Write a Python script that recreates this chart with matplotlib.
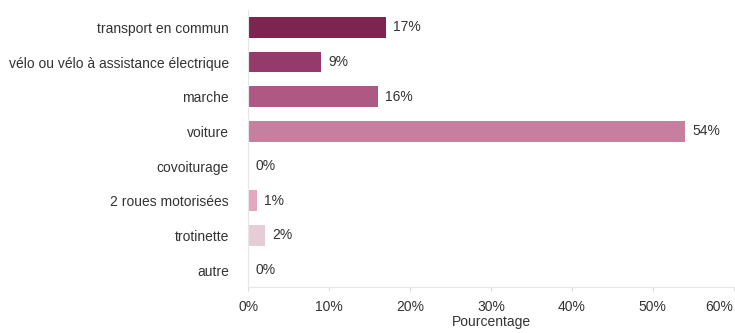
import matplotlib
matplotlib.use("Agg")
import matplotlib.pyplot as plt

categories = ["transport en commun", "vélo ou vélo à assistance électrique", "marche",
              "voiture", "covoiturage", "2 roues motorisées", "trotinette", "autre"]
values = [17, 9, 16, 54, 0, 1, 2, 0]
colors = ["#7d2450", "#953b6b", "#ad5983", "#c67f9f", "#c67f9f", "#e3a8bd", "#e6ccd6", "#e6ccd6"]
xticks = [0, 10, 20, 30, 40, 50, 60]

plt.rcParams['font.family'] = ['Liberation Sans', 'DejaVu Sans']
FS = 10

fig = plt.figure(figsize=(7.35, 3.33), dpi=100)
ax = fig.add_axes([0.338, 0.137, 0.660, 0.833])

y = list(range(len(categories)))
ax.barh(y, values, height=0.6, color=colors, edgecolor="none")
for yi, v in zip(y, values):
    ax.text(v + 0.9, yi, f"{v}%", va="center", ha="left", fontsize=FS, color="#333333")

ax.set_ylim(len(categories) - 0.5, -0.5)
ax.set_xlim(0, 60)
ax.set_yticks(y)
ax.set_yticklabels(categories, fontsize=FS, color="#333333")
ax.set_xticks(xticks)
xtl = ax.set_xticklabels([f"{t}%" for t in xticks], fontsize=FS, color="#333333")
xtl[-1].set_horizontalalignment("right")
ax.set_xlabel("Pourcentage", fontsize=FS, color="#333333", labelpad=1)

ax.tick_params(axis="y", length=0, pad=14)
ax.tick_params(axis="x", length=3, color="#dddddd", pad=6)
for s in ["top", "right"]:
    ax.spines[s].set_visible(False)
ax.spines["left"].set_color("#e6e6e6")
ax.spines["bottom"].set_color("#e6e6e6")

fig.savefig("out.png", dpi=100)
